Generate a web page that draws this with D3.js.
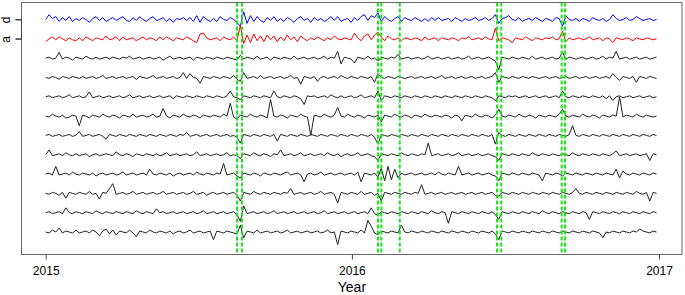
<!DOCTYPE html>
<html>
<head>
<meta charset="utf-8">
<script src="https://cdn.jsdelivr.net/npm/d3@7"></script>
<style>
  body { margin: 0; background: #fff; }
  svg { display: block; font-family: "Liberation Sans", Arial, sans-serif; }
</style>
</head>
<body>
<div id="chart"></div>
<script>
// Sampling of every series: one value every 4 days from the start date
const START_DATE = "2015-01-01";
const STEP_DAYS = 4;

// Stacking offset between two series
const OFFSET = 20;

// x-axis tick labels
const yearTicks = ["2015-01-01", "2016-01-01", "2017-01-01"];

// y-axis tick labels (top two series)
const yLabels = ["a", "d"];

// dates of the marked events (green dashed lines)
const eventDates = [
  "2015-08-17", "2015-08-23",
  "2016-02-01", "2016-02-05", "2016-02-27",
  "2016-06-22", "2016-06-27",
  "2016-09-07", "2016-09-11"
];

/* Series "d" (blue, top line). */
const seriesD = [
  0, 5, 1, 3, -2, 2, -1, 3, -2, 1,
  -1, 2, 0, -3, 1, 3, -1, 2, -2, 0,
  2, -1, 1, 3, -1, -2, 2, -1, 3, 0,
  -2, 1, 3, -1, 0, 2, -2, 1, -3, 1,
  0, 2, -1, 2, -2, 4, -3, 3, 0, -2,
  1, -2, 3, 0, -1, 2, 0, -3, -7, 8,
  -4, 4, -2, 3, -1, -3, 2, -1, 3, -2,
  1, -2, 2, 0, -3, 1, 3, -1, 1, -3,
  2, -1, 1, -2, 0, 3, -1, 3, -2, 0,
  1, -3, 2, -1, 3, 5, -1, 4, 2, 7,
  -2, 3, 0, -2, 1, 3, -2, 2, 0, -1,
  2, 0, -2, 1, -2, 2, -1, 2, -1, 0,
  1, -2, 2, 0, -2, 1, -1, 0, 2, -1,
  0, 2, -1, 1, 5, -4, 1, 2, 4, 0,
  -1, 2, -2, 0, 1, -1, 2, 0, -2, 1,
  0, -2, 2, 1, -7, 4, 0, -1, 1, -2,
  1, 0, -2, 2, 0, -1, 1, -2, 0, 5,
  1, -1, 0, 2, -1, 0, 3, 1, -1, 0,
  1, -1, 0
];

/* Series "a" (red). */
const seriesA = [
  -3, 0, 2, -1, 2, 0, -2, 1, -1, -2,
  1, -2, 2, 0, -2, 1, 0, -1, 3, -1,
  0, 2, -2, 2, -1, 0, 1, -2, 0, 2,
  -1, 1, 0, -2, 2, -1, 2, 0, -2, 1,
  0, -1, 2, 0, -2, -4, 5, 6, 1, -1,
  0, 1, -2, 2, 0, -1, 2, -2, 14, -5,
  4, -4, 5, -2, 3, -3, 4, -1, 3, -3,
  2, -2, 4, -1, 2, -3, 3, 0, -2, 1,
  -1, 2, 0, -2, 1, -1, 3, 0, -1, 1,
  0, -1, 6, 1, -2, 3, 5, -1, 4, 7,
  2, -2, 3, 0, -1, 1, -2, 1, 0, -1,
  1, 0, -2, 2, -1, 0, 1, -2, 1, 0,
  -1, 1, 0, -2, 1, 0, 2, -1, 0, 1,
  -1, 2, 0, -1, 11, -2, 1, 0, -1, -4,
  1, 0, -1, 2, 0, -2, 1, 0, -1, 1,
  0, 2, -1, 0, 8, -3, 1, -1, 0, 1,
  -1, 0, 2, -1, 0, 1, -2, 1, 0, -4,
  1, 0, -1, 1, 0, -2, 1, 0, -1, 1,
  0, -1, 0
];

/* Unlabelled black series, top to bottom. */
const series3 = [
  0, 1, -1, 0, 6, -1, 1, 0, -2, 1,
  0, -1, 2, 0, -1, 1, -1, 0, 1, -1,
  1, 0, -1, 1, 0, 2, -1, 0, 1, -1,
  0, 1, -1, 0, 1, -2, 0, 2, -1, 0,
  1, -1, 0, 1, -2, 1, 0, -1, 1, 0,
  -1, 1, 0, -1, 1, 0, -1, -2, 3, -1,
  1, 0, -1, 2, -1, 0, 1, -2, 1, 0,
  -1, 1, 0, -1, 2, -1, 0, 1, -1, 0,
  1, -1, 0, 2, -1, 1, 0, 7, -6, 1,
  0, -1, -5, 1, 0, -1, 2, -1, 0, -3,
  1, 0, -1, 1, 0, 4, -1, 0, 1, -1,
  0, 1, -1, 0, 2, -1, 0, 1, -1, 0,
  1, -1, 0, 1, -1, 0, 2, -1, 0, 1,
  -1, 0, 1, -1, -3, -12, 1, 0, -1, 1,
  0, -1, 1, 0, -1, 2, -1, 0, 1, -1,
  0, 1, -1, 0, 6, -1, 1, 0, -1, 0,
  1, -1, 0, 1, -1, 0, 2, -1, 1, 0,
  7, -1, 0, 1, -1, 0, 1, -1, 0, 1,
  -1, 0, 1
];
const series4 = [
  0, -1, 1, 0, -2, 1, 0, -1, 1, 0,
  -1, 1, -1, 0, 1, -1, 0, 2, -1, 0,
  1, -1, 0, 1, -1, 0, 1, -2, 1, 0,
  -1, 0, 2, -1, 0, 1, -1, 0, 1, -1,
  0, 5, -1, 4, 0, -1, -6, 1, 0, -1,
  1, 0, -1, 1, 0, -1, 2, -2, -4, 5,
  -1, 0, 1, -1, 2, -1, 0, 1, -1, 0,
  1, -1, 0, 2, -1, 0, -7, 1, 0, -1,
  1, -4, 0, 1, -1, 0, 1, -1, 2, 0,
  -1, 1, 0, -1, 1, 0, -1, 1, -5, 4,
  0, -1, 1, 0, -1, 1, 0, -1, 0, 1,
  -1, 0, 1, -1, 0, 1, -1, 0, 2, -1,
  0, 1, -1, 0, 1, -1, 0, 1, -1, 0,
  1, -1, 0, 1, 5, -5, 1, 0, -1, 1,
  0, -1, 1, 0, -1, 1, 0, -1, 0, 1,
  -1, 0, 1, -1, 0, 1, -1, 0, 1, -1,
  0, 1, -1, 0, 1, -1, 0, 1, -1, 4,
  0, -3, 1, 0, -1, 1, -5, 1, 0, -1,
  1, 0, -1
];
const series5 = [
  0, 1, -1, 0, 1, -1, 0, 2, -1, 0,
  1, -1, 0, 5, -1, 0, 1, -1, 0, 1,
  -1, 0, 1, -1, 0, 2, -1, 0, 1, -1,
  0, 1, -1, 0, 1, -1, 0, 1, -2, 1,
  0, -1, 1, 0, -1, 1, 0, -1, 1, 0,
  -1, 1, 0, -1, 1, 6, 0, -1, -3, 1,
  0, -1, 1, 0, -1, 1, 0, -1, 6, 0,
  -1, 1, 0, -1, 1, 0, -2, -8, 1, 0,
  1, -1, 0, 1, -1, 2, 0, -1, 1, -1,
  0, 1, -1, 0, 2, -1, 0, 1, -1, 6,
  -4, 1, 0, -1, 1, 0, -1, 1, 0, -1,
  1, 0, -1, 1, 0, -1, 1, 0, -1, 1,
  0, -1, 1, 0, -1, 1, 0, -1, 1, 0,
  -1, 1, 0, -1, -4, 1, 0, -1, 1, 0,
  1, -1, 0, 1, -1, 0, 1, -1, 0, 1,
  -1, 0, 1, -1, 6, 0, -1, 1, 0, -1,
  1, 0, -1, 1, 0, -1, 1, -2, 1, -4,
  0, 1, -1, 0, 1, -1, 0, 1, -1, 0,
  1, -1, 0
];
const series6 = [
  0, -1, 2, 0, -1, 1, -2, -1, 1, 0,
  -10, 1, 0, -2, 1, 0, -1, 2, 0, -1,
  1, 0, -2, 1, 0, -1, 2, -1, 0, 1,
  -1, 0, 2, -1, 0, 8, 0, -2, 1, 0,
  -1, 2, 0, -1, 1, 0, -2, 1, 0, -1,
  1, 0, -1, 2, 0, 13, -1, -3, 1, 0,
  -1, 2, 0, -1, 1, 0, -2, 17, 0, -1,
  1, 0, -2, 1, 0, -1, 2, 0, -1, -20,
  1, 0, -1, 2, 0, -1, 1, 9, 0, -1,
  2, 0, -1, 1, 0, -2, 1, 0, -1, 1,
  -6, 1, 0, -1, 2, 0, -1, 1, 0, -2,
  1, 0, -1, 2, 0, -1, 1, 0, -1, 1,
  0, -2, 1, 0, -5, 1, 0, -1, 2, 0,
  -1, 1, 0, -2, 1, 7, 0, -1, 1, 0,
  -1, 2, 0, -1, 1, 0, -2, 1, 0, -1,
  1, 0, -1, 2, 7, 0, -1, 1, 0, -1,
  2, 0, -1, 1, 0, -2, 1, 0, -1, 1,
  0, 20, -1, 1, 0, -1, 2, 0, -1, 1,
  0, -1, 0
];
const series7 = [
  0, 1, -1, 0, 1, -1, 0, 1, -1, 0,
  4, -1, 0, 1, -1, 0, 1, -1, -4, 1,
  0, -1, 1, 0, -1, 1, 0, -1, 1, 0,
  -1, 1, 0, -1, 1, 0, -1, 1, 0, -1,
  1, 0, 3, -1, 0, 1, -1, 0, 1, -1,
  0, 1, -1, 0, 1, -1, 0, -2, -8, 1,
  0, -1, 1, 0, -1, 1, 0, -1, 1, -6,
  1, 0, -1, 1, 0, -1, 1, 0, -1, 1,
  0, -1, 1, 0, -1, 1, 0, -1, 1, 0,
  -1, 1, 0, -1, 1, 0, -1, 1, -2, -9,
  1, 0, -1, 1, 0, -1, 1, 0, -1, 1,
  0, -1, 1, 0, -1, 1, 0, -1, 1, 0,
  -1, 1, 0, -1, 1, 0, -1, 1, 0, -1,
  1, 0, -1, 1, -9, 3, 0, -1, 1, 0,
  -1, 1, 0, -1, 1, 0, -1, 1, 0, -1,
  1, 0, -1, 1, 0, -1, 1, 10, 0, -1,
  1, 0, -1, 1, 0, -1, 1, 0, -1, 1,
  0, -1, 1, 0, -1, 1, 0, -1, 1, 0,
  -1, 1, 0
];
const series8 = [
  0, 5, -1, 0, 1, -1, 2, 0, -1, 1,
  -1, 0, 1, -2, 0, 1, -1, 0, 1, 0,
  -1, 3, 0, -1, 1, 0, -2, 1, 0, -1,
  1, 0, -1, 1, -1, 0, 2, -1, 0, 1,
  -1, 0, 1, -1, 0, 3, -1, 0, 1, -1,
  0, 1, -1, 0, 2, -1, 0, -1, -4, 1,
  0, -1, 2, 0, -1, 1, 0, -2, 1, 0,
  5, -1, 0, 1, -1, 0, 2, -1, 0, 1,
  -1, 0, 1, -1, 2, 0, -1, 1, -2, 0,
  1, -1, 0, 2, -1, 0, 1, -1, -2, -6,
  1, 0, -1, 1, 0, -1, 2, 0, -1, 1,
  0, -1, 1, 0, 12, -1, 0, 1, -1, 0,
  1, -1, 0, 2, -1, 0, 1, -1, 0, 1,
  -1, 0, 1, -1, -2, -6, 1, 0, -1, 1,
  0, -1, 1, 0, -1, 2, 0, -1, 1, 0,
  -1, 1, 0, -1, 1, 0, -1, 2, 0, -1,
  1, 0, -1, 1, 0, -1, 1, 0, -1, 1,
  4, -1, 0, 1, -1, 0, 1, -1, 0, 1,
  -6, 1, 0
];
const series9 = [
  0, 1, -1, 8, -1, 0, 1, -1, 2, 0,
  -1, 1, 0, -1, 1, -2, 0, 1, -1, 0,
  1, -1, 0, 2, -1, 0, 1, -1, 0, 1,
  -1, 5, 0, -1, 1, 0, -1, 1, -2, 0,
  1, -1, 0, 1, -1, 2, 0, -1, 1, 0,
  -1, 1, 0, 11, -1, 0, 1, -2, -4, 1,
  0, -1, 1, 0, -2, 1, 0, -1, 1, 0,
  -1, 1, 2, -1, 0, 1, -1, -8, 0, 1,
  -1, 0, 2, -1, 0, 1, -1, 0, 1, -1,
  0, 1, -1, 2, -8, 1, 0, -1, 1, -3,
  6, -7, 8, -6, 5, -4, 1, -1, 0, 1,
  -1, 0, 1, -1, 0, 1, -1, 2, 0, -1,
  1, 0, -1, 8, -1, 0, 1, -1, 0, 1,
  -1, 0, 1, -1, -2, -7, 1, 0, -1, 1,
  0, -1, 1, 0, -1, 1, 0, -1, -7, 1,
  0, -1, 1, 0, -2, 1, 0, -1, 1, 0,
  -1, 1, 0, -1, 1, 0, -1, 1, 0, -1,
  5, -4, 3, 0, -1, 1, 0, -1, 1, 0,
  -1, 1, 0
];
const series10 = [
  0, -1, 1, 0, -2, 1, -5, 1, 0, -1,
  1, 0, -1, 2, -1, 0, -6, 1, 0, 5,
  10, -1, 0, 1, -1, 0, 2, -1, 0, 1,
  -1, 0, 1, -1, 0, 2, -1, 0, 1, -1,
  0, 1, -1, 0, 2, -1, 0, 1, -2, 0,
  1, -1, 0, 1, -1, 0, 1, -2, -8, 1,
  0, -1, 2, 0, -1, 1, 0, -1, 1, 0,
  -1, 1, 0, 5, -1, 0, 1, -1, 0, 1,
  -1, 0, 2, -1, 0, 1, -1, -10, 1, 0,
  -1, 1, 0, -1, 2, -1, 0, 1, -2, 0,
  -8, 1, 0, -1, 1, 0, -1, 1, 0, -1,
  1, 0, 9, -1, 0, 1, -1, 0, 1, -1,
  0, 1, -1, 0, 1, -1, 0, 1, -1, 0,
  1, -1, 0, 1, -2, -3, 1, 0, -1, 1,
  0, -1, 1, 0, -1, 1, 0, -1, 1, 0,
  -1, 1, 0, -1, 1, 0, -1, 1, 5, 0,
  -1, 1, 0, -1, 1, 0, -1, 1, 0, -1,
  1, 0, -1, 1, 0, -1, 2, 0, -1, 1,
  -8, 1, 0
];
const series11 = [
  0, 1, -1, 0, 1, -1, 5, 0, -1, 1,
  0, -1, 1, 0, -1, 2, 0, -1, 1, 0,
  -1, 1, 0, -1, 1, 0, -1, 2, 0, -1,
  1, 0, -1, 4, 0, 1, -1, 0, 1, -1,
  0, 1, -1, 0, 1, -1, 0, 2, -1, 0,
  1, -1, 0, 1, -1, 0, 1, -2, -9, 7,
  -1, 0, 1, -1, 0, 1, -1, 0, 2, -1,
  0, 1, -1, 0, 1, -1, 0, 1, -1, 0,
  1, -1, 0, 2, -1, 0, 1, -1, 0, 1,
  -1, 0, 1, -1, 0, 1, -1, 5, -1, -3,
  1, 0, -1, 1, 0, -1, 1, 0, -1, 1,
  0, -1, 1, 0, -1, 2, 0, -1, 1, 0,
  -11, 1, 0, -1, 1, 0, -1, 1, 0, -1,
  1, 0, -1, 1, -2, -7, 1, 0, -1, 1,
  0, -1, 1, 0, -1, 1, 0, -1, 2, 0,
  -1, 1, 0, -1, 1, 0, -1, 1, 0, -1,
  1, 0, -7, 1, 0, -1, 1, 0, -1, 1,
  0, -1, 1, 0, -1, 1, 0, -1, 1, 0,
  -1, 1, 0
];
const series12 = [
  0, -1, 2, 0, 4, -1, 1, 0, -1, 2,
  -1, 0, 1, -1, 2, 0, -4, 1, 3, -2,
  2, -3, 1, 0, -1, 2, -1, -5, 1, 0,
  -1, 2, 0, -1, 1, 0, -1, 1, -2, 0,
  1, -1, 0, 2, -1, 0, 1, -1, 0, 1,
  -8, 1, 0, -1, 1, 0, -1, -2, 7, -6,
  1, 0, -1, 2, -1, 0, 1, -1, 0, 1,
  -1, 0, 2, -1, 0, 1, -1, 0, 1, -1,
  0, 1, -1, 0, 2, -1, 0, -13, 1, 0,
  -1, 1, 0, -1, 2, -1, 12, 6, -1, -3,
  1, 0, -1, 1, 0, -1, 7, 0, -1, 1,
  0, -1, 1, 0, -1, 1, 0, -1, 1, 0,
  -1, 1, 0, -1, 1, 0, -1, 1, 0, -1,
  1, 0, -1, 1, -2, -8, 1, 0, -1, 1,
  0, -1, 1, 0, -1, 1, 0, -1, 1, 0,
  -1, 1, 0, -1, 1, 0, -1, 1, 0, -1,
  1, 0, -1, 1, 0, -1, -6, 0, -1, 1,
  0, -1, 1, 0, -1, 1, 0, 3, 1, 0,
  -1, 1, 0
];

// every series with its colour, listed top to bottom
const allSeries = [
  { values: seriesD, color: "#0000ff" },
  { values: seriesA, color: "#ff0000" },
  { values: series3, color: "#222" },
  { values: series4, color: "#222" },
  { values: series5, color: "#222" },
  { values: series6, color: "#222" },
  { values: series7, color: "#222" },
  { values: series8, color: "#222" },
  { values: series9, color: "#222" },
  { values: series10, color: "#222" },
  { values: series11, color: "#222" },
  { values: series12, color: "#222" }
];

buildChart();

// ---------------- Function definitions ---------------- //

function buildChart() {
  const width = 685,
    height = 295,
    boxLeft = 21.5,
    boxRight = 682,
    boxTop = 2.5,
    boxBottom = 254.5;

  const parseDate = d3.timeParse("%Y-%m-%d");
  const start = parseDate(START_DATE);
  const n = allSeries.length;

  const svg = d3.select("#chart")
    .append("svg")
    .attr("width", width)
    .attr("height", height);

  // x-scale: 2015-01-01 .. 2017-01-01
  const xScale = d3.scaleTime()
    .domain([parseDate(yearTicks[0]), parseDate(yearTicks[2])])
    .range([45.7, 659]);

  // y-scale: series k (0 = bottom) sits at k * OFFSET
  const yScale = d3.scaleLinear()
    .domain([-23.3, 237.6])
    .range([boxBottom, boxTop]);

  const line = d3.line()
    .x((d, i) => xScale(d3.timeDay.offset(start, i * STEP_DAYS)))
    .y(d => yScale(d));

  // draw the stacked series
  svg.append("g")
    .attr("class", "series")
    .selectAll("path")
    .data(allSeries)
    .enter()
    .append("path")
    .attr("d", (s, j) => {
      const base = (n - 1 - j) * OFFSET;
      return line(s.values.map(v => v + base));
    })
    .attr("fill", "none")
    .attr("stroke", s => s.color)
    .attr("stroke-width", 1)
    .attr("stroke-linejoin", "round");

  // green dashed event lines
  svg.append("g")
    .attr("class", "events")
    .selectAll("line")
    .data(eventDates.map(parseDate))
    .enter()
    .append("line")
    .attr("x1", d => xScale(d))
    .attr("x2", d => xScale(d))
    .attr("y1", boxTop)
    .attr("y2", boxBottom)
    .style("stroke", "#1ee41e")
    .style("stroke-width", 2)
    .style("stroke-dasharray", "4,2");

  // plot box
  svg.append("rect")
    .attr("x", boxLeft)
    .attr("y", boxTop)
    .attr("width", boxRight - boxLeft)
    .attr("height", boxBottom - boxTop)
    .attr("fill", "none")
    .attr("stroke", "#666")
    .attr("stroke-width", 1);

  // x-axis
  const xAxis = svg.append("g")
    .attr("class", "x axis")
    .attr("transform", "translate(0," + boxBottom + ")")
    .call(d3.axisBottom(xScale)
      .tickValues(yearTicks.map(parseDate))
      .tickFormat(d3.timeFormat("%Y"))
      .tickSize(5)
      .tickPadding(7));
  xAxis.select(".domain").remove();
  xAxis.selectAll(".tick line").attr("stroke", "#444");
  xAxis.selectAll("text")
    .attr("font-size", 12)
    .attr("font-family", "Liberation Sans, Arial, sans-serif")
    .attr("fill", "#000");

  svg.append("text")
    .text("Year")
    .attr("x", xScale(parseDate(yearTicks[1])))
    .attr("y", 292)
    .attr("text-anchor", "middle")
    .attr("font-size", 14);

  // y-axis, only the two labelled series
  const yTicks = [(n - 2) * OFFSET, (n - 1) * OFFSET];
  const yAxis = svg.append("g")
    .attr("class", "y axis")
    .attr("transform", "translate(" + boxLeft + ",0)")
    .call(d3.axisLeft(yScale)
      .tickValues(yTicks)
      .tickFormat((d, i) => yLabels[i])
      .tickSize(6)
      .tickPadding(5));
  yAxis.select(".domain")
    .attr("d", "M-6," + yScale(yTicks[0]) + "H0V" + yScale(yTicks[1]) + "H-6")
    .attr("stroke", "#444");
  yAxis.selectAll(".tick line").attr("stroke", "#444");
  yAxis.selectAll("text")
    .attr("font-size", 12)
    .attr("fill", "#000")
    .attr("text-anchor", "middle")
    .attr("dy", 0)
    .attr("x", 0)
    .attr("y", 0)
    .attr("transform", "translate(-12,0) rotate(-90)");
}
</script>
</body>
</html>
